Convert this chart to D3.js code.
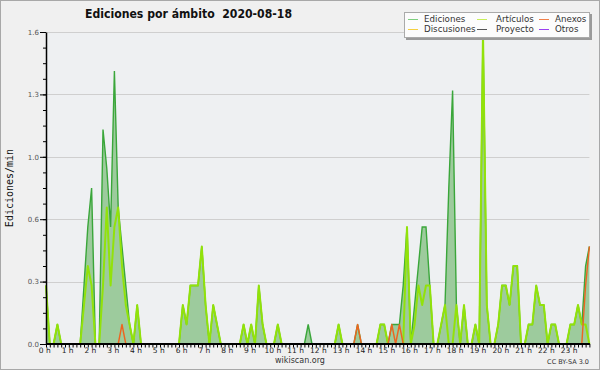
<!DOCTYPE html>
<html>
<head>
<meta charset="utf-8">
<script src="https://cdn.jsdelivr.net/npm/d3@7"></script>
<style>
  body { margin: 0; background: #f0f0f0; }
  svg { display: block; font-family: "DejaVu Sans", sans-serif; }
</style>
</head>
<body>
<svg id="chart" width="600" height="370"></svg>
<script>
// ---------- Data: edits/min, 10-minute buckets (one row per hour) ----------
const ediciones = [
  0.3, 0, 0, 0.1, 0, 0,
  0, 0, 0, 0, 0.3, 0.6,
  0.8, 0, 0, 1.1, 0.9, 0.6,
  1.4, 0.7, 0.5, 0.3, 0.1, 0,
  0.2, 0, 0, 0, 0, 0,
  0, 0, 0, 0, 0, 0,
  0.2, 0.1, 0.3, 0.3, 0.3, 0.5,
  0.2, 0, 0.2, 0.1, 0, 0,
  0, 0, 0, 0, 0.1, 0,
  0.1, 0, 0.3, 0.1, 0, 0,
  0, 0.1, 0, 0, 0, 0,
  0, 0, 0, 0.1, 0, 0,
  0, 0, 0, 0, 0, 0.1,
  0, 0, 0, 0, 0.1, 0,
  0, 0, 0, 0, 0.1, 0.1,
  0, 0.1, 0.1, 0.1, 0.3, 0.6,
  0, 0.2, 0.4, 0.6, 0.6, 0.3,
  0, 0, 0.1, 0.2, 0.8, 1.3,
  0.2, 0, 0.2, 0, 0, 0.1,
  0, 1.6, 0.2, 0, 0, 0.1,
  0.3, 0.3, 0.2, 0.4, 0.4, 0,
  0, 0.1, 0.1, 0.3, 0.2, 0.2,
  0, 0.1, 0.1, 0, 0, 0,
  0.1, 0.1, 0.2, 0.1, 0.4, 0.5
];

const articulos = [
  0.3, 0, 0, 0.1, 0, 0,
  0, 0, 0, 0, 0.2, 0.4,
  0.3, 0, 0, 0.3, 0.7, 0.3,
  0.6, 0.7, 0.4, 0.2, 0.1, 0,
  0.2, 0, 0, 0, 0, 0,
  0, 0, 0, 0, 0, 0,
  0.2, 0.1, 0.3, 0.3, 0.3, 0.5,
  0.2, 0, 0.2, 0.1, 0, 0,
  0, 0, 0, 0, 0.1, 0,
  0.1, 0, 0.3, 0.1, 0, 0,
  0, 0.1, 0, 0, 0, 0,
  0, 0, 0, 0, 0, 0,
  0, 0, 0, 0, 0, 0.1,
  0, 0, 0, 0, 0, 0,
  0, 0, 0, 0, 0.1, 0.1,
  0, 0, 0, 0, 0, 0.6,
  0, 0.1, 0.3, 0.2, 0.3, 0.3,
  0, 0, 0.1, 0.2, 0, 0,
  0.2, 0, 0.2, 0, 0, 0.1,
  0, 1.6, 0.2, 0, 0, 0.1,
  0.3, 0.3, 0.2, 0.4, 0.4, 0,
  0, 0.1, 0.1, 0.3, 0.2, 0.2,
  0, 0.1, 0.1, 0, 0, 0,
  0.1, 0.1, 0.2, 0.1, 0.1, 0
];

const anexos = [
  0, 0, 0, 0, 0, 0,   0, 0, 0, 0, 0, 0,
  0, 0, 0, 0, 0, 0,   0, 0, 0.1, 0, 0, 0,
  0, 0, 0, 0, 0, 0,   0, 0, 0, 0, 0, 0,
  0, 0, 0, 0, 0, 0,   0, 0, 0, 0, 0, 0,
  0, 0, 0, 0, 0, 0,   0, 0, 0, 0, 0, 0,
  0, 0, 0, 0, 0, 0,   0, 0, 0, 0, 0, 0,
  0, 0, 0, 0, 0, 0,   0, 0, 0, 0, 0.1, 0,
  0, 0, 0, 0, 0, 0,   0, 0.1, 0, 0.1, 0, 0,
  0, 0, 0, 0, 0, 0,   0, 0, 0, 0, 0, 0,
  0, 0, 0, 0, 0, 0,   0, 0, 0, 0, 0, 0,
  0, 0, 0, 0, 0, 0,   0, 0, 0, 0, 0, 0,
  0, 0, 0, 0, 0, 0,   0, 0, 0, 0, 0.3, 0.5
];

// no edits in these namespaces on this day
const discusiones = new Array(144).fill(0);
const proyecto = new Array(144).fill(0);
const otros = new Array(144).fill(0);

const hourLabels = d3.range(24).map((h) => `${h} h`);
const yMajor = [0, 0.32, 0.64, 0.96, 1.28, 1.6];

const legendItems = [
  { name: "Ediciones", color: "#7fcf7f" },
  { name: "Artículos", color: "#c8ee5a" },
  { name: "Anexos", color: "#f0804a" },
  { name: "Discusiones", color: "#f5d040" },
  { name: "Proyecto", color: "#555555" },
  { name: "Otros", color: "#9a40f0" },
];

// ---------- Layout ----------
const svg = d3.select("#chart");
const W = 600, H = 370;
const plotLeft = 46, plotBottom = 344, plotTop = 32;

svg.append("rect")
  .attr("x", 0.5).attr("y", 0.5)
  .attr("width", W - 1).attr("height", H - 1)
  .attr("fill", "#f0f0f0").attr("stroke", "#a8a8a8");

// minutes since midnight for each bucket
const minutes = ediciones.map((d, i) => i * 10);

const x = d3.scaleLinear().domain([0, 1440]).range([plotLeft, plotLeft + 22.8 * 24]);
const y = d3.scaleLinear().domain([0, 1.6]).range([plotBottom, plotTop]);
const xEnd = x(minutes[minutes.length - 1]);

// plot background
svg.append("rect")
  .attr("x", plotLeft).attr("y", plotTop)
  .attr("width", xEnd - plotLeft).attr("height", plotBottom - plotTop)
  .attr("fill", "#eef0f2");

// gridlines
svg.append("g")
  .selectAll("line")
  .data(yMajor.slice(1))
  .join("line")
  .attr("x1", plotLeft).attr("x2", xEnd)
  .attr("y1", (d) => Math.round(y(d)) + 0.5)
  .attr("y2", (d) => Math.round(y(d)) + 0.5)
  .attr("stroke", "#cfcfcf");

// ---------- Series ----------
const area = d3.area()
  .x((d, i) => x(minutes[i]))
  .y0(y(0))
  .y1((d) => y(d));

const line = d3.line()
  .x((d, i) => x(minutes[i]))
  .y((d) => y(d));

svg.append("path")
  .attr("d", area(ediciones))
  .attr("fill", "#9dcb9d");

svg.append("path")
  .attr("d", line(ediciones))
  .attr("fill", "none")
  .attr("stroke", "#3aa63a")
  .attr("stroke-width", 1.4);

const lines = [
  { values: otros, color: "#9a40f0", w: 1.3 },
  { values: proyecto, color: "#555555", w: 1.3 },
  { values: discusiones, color: "#f5d040", w: 1.3 },
  { values: articulos, color: "#92e20a", w: 2 },
  { values: anexos, color: "#ee6420", w: 1.4 },
];

svg.append("g")
  .selectAll("path")
  .data(lines)
  .join("path")
  .attr("d", (d) => line(d.values))
  .attr("fill", "none")
  .attr("stroke", (d) => d.color)
  .attr("stroke-width", (d) => d.w)
  .attr("stroke-linejoin", "round");

// ---------- Axes ----------
const minorY = d3.range(0, 1.6001, 0.08);

svg.append("g")
  .attr("transform", `translate(${plotLeft},0)`)
  .call(d3.axisLeft(y).tickValues(minorY).tickSize(3).tickSizeOuter(0).tickFormat(""))
  .call((g) => g.select(".domain").remove())
  .call((g) => g.selectAll("line").attr("stroke", "#000"));

const yAxis = svg.append("g")
  .attr("transform", `translate(${plotLeft},0)`)
  .call(d3.axisLeft(y).tickValues(yMajor).tickSize(6).tickSizeOuter(0).tickFormat(d3.format(".1f")));
yAxis.select(".domain").attr("stroke", "#000").attr("stroke-width", 1.5);
yAxis.selectAll("text")
  .attr("font-family", "DejaVu Sans")
  .attr("font-size", 7)
  .attr("fill", "#555")
  .attr("x", -7);

const xAxis = svg.append("g")
  .attr("transform", `translate(0,${plotBottom})`)
  .call(d3.axisBottom(x).tickValues(minutes).tickSize(3.5).tickSizeOuter(0).tickFormat(""));
xAxis.select(".domain").attr("stroke", "#000").attr("stroke-width", 2)
  .attr("d", `M${plotLeft},0H${xEnd + 0.5}`);
xAxis.selectAll("line").attr("stroke", "#000");

svg.append("g")
  .selectAll("text")
  .data(hourLabels)
  .join("text")
  .attr("x", (d, i) => x(i * 60) - 1.2)
  .attr("y", 353)
  .attr("text-anchor", "middle")
  .attr("font-size", 7.5)
  .attr("fill", "#222")
  .text((d) => d);

// ---------- Titles ----------
svg.append("text")
  .attr("x", 85).attr("y", 18)
  .attr("font-size", 12)
  .attr("font-weight", "bold")
  .attr("fill", "#111")
  .attr("textLength", 207)
  .attr("lengthAdjust", "spacingAndGlyphs")
  .style("white-space", "pre")
  .text("Ediciones por ámbito  2020-08-18");

svg.append("text")
  .attr("transform", `translate(13,${(plotTop + plotBottom) / 2}) rotate(-90)`)
  .attr("text-anchor", "middle")
  .attr("font-family", "DejaVu Sans Mono")
  .attr("font-size", 10)
  .attr("fill", "#111")
  .text("Ediciones/min");

svg.append("text")
  .attr("x", 300).attr("y", 363)
  .attr("text-anchor", "middle")
  .attr("font-size", 8)
  .attr("fill", "#333")
  .text("wikiscan.org");

svg.append("text")
  .attr("x", 589).attr("y", 364)
  .attr("text-anchor", "end")
  .attr("font-size", 6.5)
  .attr("fill", "#333")
  .text("CC BY-SA 3.0");

// ---------- Legend ----------
const lg = svg.append("g");
lg.append("rect")
  .attr("x", 406).attr("y", 14).attr("width", 186).attr("height", 26)
  .attr("fill", "#9a9a9a");
lg.append("rect")
  .attr("x", 404.5).attr("y", 12.5).attr("width", 185).attr("height", 25)
  .attr("fill", "#fcfcfc").attr("stroke", "#aaa");

const colX = [408, 477, 539];
const textX = [424, 496, 555];
const rowY = [19, 29];

const items = lg.selectAll("g.item")
  .data(legendItems)
  .join("g")
  .attr("class", "item");

items.append("line")
  .attr("x1", (d, i) => colX[i % 3])
  .attr("x2", (d, i) => colX[i % 3] + 10)
  .attr("y1", (d, i) => rowY[Math.floor(i / 3)] + 0.5)
  .attr("y2", (d, i) => rowY[Math.floor(i / 3)] + 0.5)
  .attr("stroke", (d) => d.color)
  .attr("stroke-width", 1);

items.append("text")
  .attr("x", (d, i) => textX[i % 3])
  .attr("y", (d, i) => rowY[Math.floor(i / 3)] + 3.3)
  .attr("font-size", 8.7)
  .attr("fill", "#333")
  .text((d) => d.name);
</script>
</body>
</html>
